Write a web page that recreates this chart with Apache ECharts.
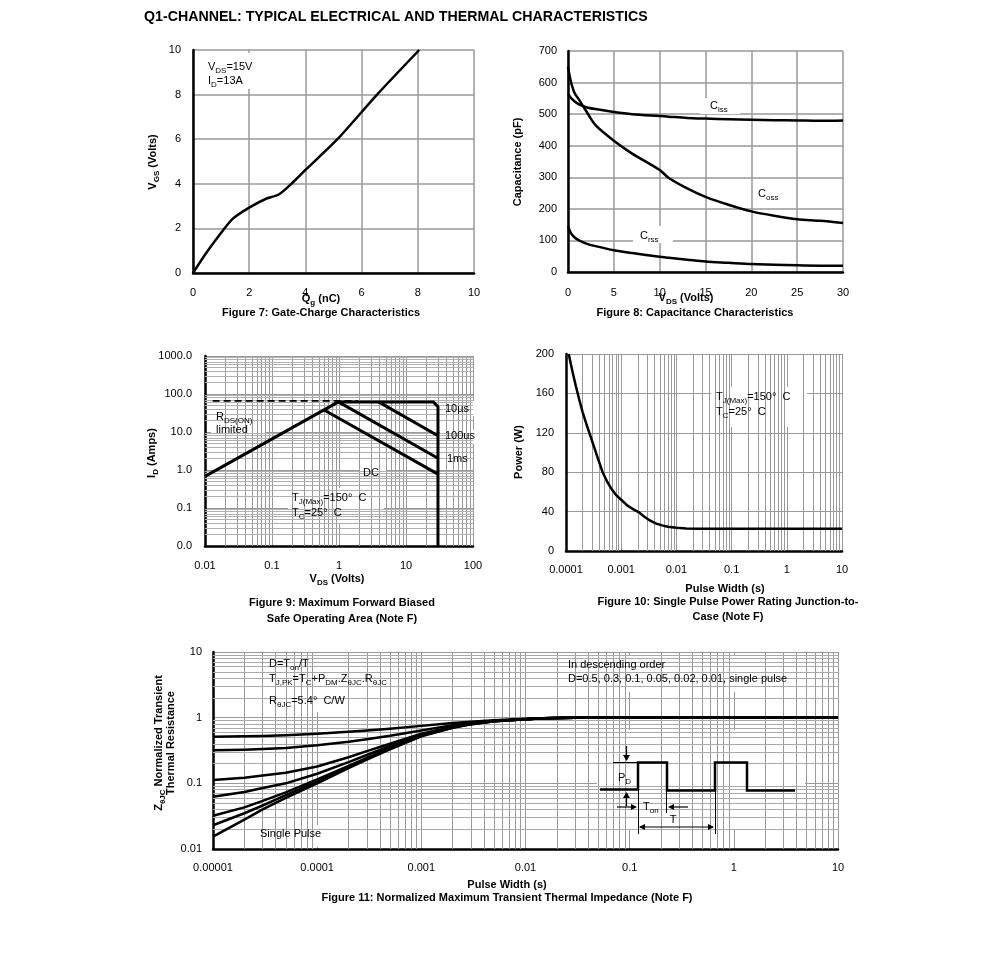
<!DOCTYPE html>
<html>
<head>
<meta charset="utf-8">
<script src="https://cdn.jsdelivr.net/npm/echarts@6/dist/echarts.min.js"></script>
<style>
html,body{margin:0;padding:0;background:#fff;}
#c{width:991px;height:965px;}
</style>
</head>
<body>
<div id="c"></div>
<script>
// ================= DATA =================
const titleText = 'Q1-CHANNEL: TYPICAL ELECTRICAL AND THERMAL CHARACTERISTICS';

// Figure 7: Gate charge
const fig7Qg  = [0, 0.5, 1.07, 1.42, 2.0, 2.6, 3.05, 3.5, 4.0, 5.14, 6.55, 8.05];
const fig7Vgs = [0, 0.95, 1.92, 2.44, 2.93, 3.33, 3.52, 4.0, 4.62, 6.0, 8.0, 10.0];
const fig7XTicks = ['0', '2', '4', '6', '8', '10'];
const fig7YTicks = ['0', '2', '4', '6', '8', '10'];

// Figure 8: Capacitance
const fig8Vds  = [0, 0.3, 0.7, 1.2, 2, 3, 5, 7, 10, 11, 13, 15, 17.5, 20, 22.5, 25, 27.5, 30];
const fig8Ciss = [565, 552, 541, 531, 522, 516, 507, 500, 494, 492, 488, 486, 484, 482, 481, 480, 479, 480];
const fig8Coss = [650, 605, 568, 546, 509, 465, 416, 375, 323, 298, 265, 238, 213, 192, 178, 167, 162, 155];
const fig8Crss = [145, 124, 110, 100, 90, 82, 69, 60, 48, 45, 39, 33, 29, 25, 23, 21, 20, 20];
const fig8XTicks = ['0', '5', '10', '15', '20', '25', '30'];
const fig8YTicks = ['0', '100', '200', '300', '400', '500', '600', '700'];

// Figure 9: Safe operating area
const fig9RdsX = [0.013, 1.9];
const fig9RdsY = [66, 66];
const fig9RampX = [0.01, 0.98];
const fig9RampY = [0.68, 62];
const fig9TenUsX = [0.98, 25.5, 30, 30];
const fig9TenUsY = [62, 62, 46, 0.01];
const fig9HundredUsX = [3.9, 30];
const fig9HundredUsY = [62, 8];
const fig9OneMsX = [0.98, 30];
const fig9OneMsY = [62, 2.03];
const fig9DcX = [0.6, 30];
const fig9DcY = [38, 0.78];
const fig9XTicks = ['0.01', '0.1', '1', '10', '100'];
const fig9YTicks = ['0.0', '0.1', '1.0', '10.0', '100.0', '1000.0'];

// Figure 10: Single pulse power rating
const fig10Pulse = [1.12e-4, 1.3e-4, 1.5e-4, 1.75e-4, 2.0e-4, 2.4e-4, 2.8e-4, 3.3e-4, 4.0e-4, 4.6e-4, 5.5e-4, 6.5e-4, 8e-4,
                    1e-3, 1.3e-3, 1.7e-3, 2.06e-3, 2.6e-3, 3.3e-3, 4.2e-3, 5.5e-3, 7e-3, 1e-2, 1.5e-2, 2.5e-2, 10];
const fig10Power = [200, 183, 168, 153, 141, 127, 116, 104, 90, 80, 71, 64, 57,
                    52, 46, 42, 39.5, 35, 31, 28, 26, 24.7, 23.5, 22.8, 22.5, 22.5];
const fig10XTicks = ['0.0001', '0.001', '0.01', '0.1', '1', '10'];
const fig10YTicks = ['0', '40', '80', '120', '160', '200'];

// Figure 11: Normalized transient thermal impedance
const fig11Pulse  = [1e-5, 2e-5, 3e-5, 5e-5, 1e-4, 2e-4, 3e-4, 5e-4, 1e-3, 2e-3, 3e-3, 5e-3, 1e-2, 1.5e-2, 2e-2, 3e-2, 0.1, 10];
const fig11D05    = [0.514, 0.52, 0.527, 0.54, 0.57, 0.61, 0.64, 0.68, 0.75, 0.83, 0.87, 0.91, 0.96, 0.98, 0.99, 1, 1, 1];
const fig11D03    = [0.318, 0.325, 0.332, 0.345, 0.38, 0.43, 0.47, 0.53, 0.64, 0.77, 0.84, 0.90, 0.95, 0.98, 0.99, 1, 1, 1];
const fig11D01    = [0.112, 0.122, 0.132, 0.145, 0.18, 0.25, 0.31, 0.40, 0.57, 0.73, 0.82, 0.89, 0.95, 0.98, 0.99, 1, 1, 1];
const fig11D005   = [0.0626, 0.074, 0.085, 0.10, 0.14, 0.21, 0.27, 0.37, 0.55, 0.72, 0.81, 0.89, 0.95, 0.98, 0.99, 1, 1, 1];
const fig11D002   = [0.032, 0.043, 0.054, 0.073, 0.115, 0.185, 0.245, 0.35, 0.54, 0.71, 0.80, 0.88, 0.95, 0.98, 0.99, 1, 1, 1];
const fig11D001   = [0.023, 0.035, 0.046, 0.066, 0.106, 0.175, 0.235, 0.34, 0.53, 0.71, 0.80, 0.88, 0.95, 0.98, 0.99, 1, 1, 1];
const fig11Single = [0.0154, 0.028, 0.040, 0.060, 0.10, 0.17, 0.23, 0.33, 0.52, 0.70, 0.79, 0.88, 0.95, 0.98, 0.99, 1, 1, 1];
const fig11XTicks = ['0.00001', '0.0001', '0.001', '0.01', '0.1', '1', '10'];
const fig11YTicks = ['0.01', '0.1', '1', '10'];

// ================= HELPERS =================
const FONT = '"Liberation Sans", Arial, Helvetica, sans-serif';
const zip = (xs, ys) => xs.map((x, i) => [x, ys[i]]);

function logMinorValues(minExp, maxExp) {
  const out = [];
  for (let e = minExp; e < maxExp; e++) {
    for (let k = 2; k <= 9; k++) out.push(k * Math.pow(10, e));
  }
  return out;
}

function baseAxis(gi, margin, formatter, gridW) {
  return {
    gridIndex: gi, z: 2,
    axisLine: { show: true, onZero: false, lineStyle: { color: '#000', width: 2.5 } },
    axisTick: { show: false },
    axisLabel: { show: true, margin: margin, color: '#000', fontSize: 11, fontFamily: FONT,
                 formatter: formatter, showMinLabel: true, showMaxLabel: true },
    splitLine: { show: true, lineStyle: { color: '#999', width: gridW || 1 } },
    minorTick: { show: false }, minorSplitLine: { show: false }
  };
}
function linAxis(gi, min, max, interval, ticks, margin, gridW) {
  return Object.assign(baseAxis(gi, margin, v => ticks[Math.round((v - min) / interval)], gridW),
    { type: 'value', min: min, max: max, interval: interval });
}
function logAxis(gi, minExp, maxExp, ticks, margin) {
  return Object.assign(baseAxis(gi, margin, v => ticks[Math.round(Math.log10(v)) - minExp]),
    { type: 'log', logBase: 10, min: Math.pow(10, minExp), max: Math.pow(10, maxExp) });
}

function curve(gi, xs, ys, o) {
  o = o || {};
  return {
    type: 'line', xAxisIndex: gi, yAxisIndex: gi, data: zip(xs, ys),
    showSymbol: false, symbol: 'none', smooth: o.smooth || false, clip: true, z: 7, silent: true,
    lineStyle: { color: '#000', width: o.width || 2.5, type: o.type || 'solid', cap: 'butt', join: 'round' }
  };
}

function minorGrid(gi, axis, values, color) {
  return {
    type: 'line', xAxisIndex: gi, yAxisIndex: gi, data: [], z: 1, silent: true,
    markLine: {
      silent: true, symbol: ['none', 'none'], animation: false, label: { show: false }, precision: 12,
      lineStyle: { color: color, width: 1, type: 'solid' }, emphasis: { disabled: true },
      data: values.map(v => axis === 'x' ? { xAxis: v } : { yAxis: v })
    }
  };
}

const subN = { fontSize: 8, fontFamily: FONT, fontWeight: 'normal', lineHeight: 8, padding: [7, 0, 0, 0], verticalAlign: 'middle' };
const subB = Object.assign({}, subN, { fontWeight: 'bold' });

function txt(x, y, text, o) {
  o = o || {};
  return {
    type: 'text', x: x, y: y, rotation: o.rot || 0, z: 6, silent: true,
    style: {
      text: text, fill: '#000', fontFamily: FONT, fontSize: o.size || 11,
      fontWeight: o.bold ? 'bold' : 'normal',
      align: o.align || 'left', verticalAlign: 'middle', lineHeight: 13,
      rich: { s: o.bold ? subB : subN }
    }
  };
}
function box(x, y, w, h) {
  return { type: 'rect', z: 5, silent: true, shape: { x: x, y: y, width: w, height: h }, style: { fill: '#fff' } };
}
function pline(points, w, z) {
  return { type: 'polyline', z: z || 6, silent: true, shape: { points: points }, style: { stroke: '#000', lineWidth: w, fill: null } };
}
function tri(points) {
  return { type: 'polygon', z: 6, silent: true, shape: { points: points }, style: { fill: '#000' } };
}

// ================= CHART =================
const chart = echarts.init(document.getElementById('c'), null, { renderer: 'canvas' });
const ROT = Math.PI / 2;

const graphics = [
  txt(144, 17, titleText, { bold: true, size: 14.2 }),

  // Fig 7
  txt(153, 162, 'V{s|GS} (Volts)', { bold: true, rot: ROT, align: 'center' }),
  txt(321, 299, 'Q{s|g} (nC)', { bold: true, align: 'center' }),
  txt(321, 313, 'Figure 7: Gate-Charge Characteristics', { bold: true, align: 'center' }),
  box(197, 53, 59, 36),
  txt(208, 67, 'V{s|DS}=15V'),
  txt(208, 81, 'I{s|D}=13A'),

  // Fig 8
  txt(518, 162, 'Capacitance (pF)', { bold: true, rot: ROT, align: 'center' }),
  txt(686, 298, 'V{s|DS} (Volts)', { bold: true, align: 'center' }),
  txt(695, 313, 'Figure 8: Capacitance Characteristics', { bold: true, align: 'center' }),
  box(700, 98, 40, 16),
  txt(710, 106, 'C{s|iss}'),
  txt(758, 194, 'C{s|oss}'),
  box(633, 226, 40, 17),
  txt(640, 236, 'C{s|rss}'),

  // Fig 9
  txt(152, 453, 'I{s|D} (Amps)', { bold: true, rot: ROT, align: 'center' }),
  txt(337, 579, 'V{s|DS} (Volts)', { bold: true, align: 'center' }),
  txt(342, 603, 'Figure 9: Maximum Forward Biased', { bold: true, align: 'center' }),
  txt(342, 619, 'Safe Operating Area (Note F)', { bold: true, align: 'center' }),
  box(211, 405, 55, 36),
  txt(216, 417, 'R{s|DS(ON)}'),
  txt(216, 430, 'limited'),
  box(440, 401, 37, 15),
  txt(445, 409, '10µs'),
  box(440, 430, 37, 14),
  txt(445, 436, '100us'),
  box(444, 452, 27, 15),
  txt(447, 459, '1ms'),
  box(359, 465, 27, 15),
  txt(363, 473, 'DC'),
  box(288, 488, 96, 36),
  txt(292, 498, 'T{s|J(Max)}=150°  C'),
  txt(292, 513, 'T{s|C}=25°  C'),

  // Fig 10
  txt(519, 452, 'Power (W)', { bold: true, rot: ROT, align: 'center' }),
  txt(725, 589, 'Pulse Width (s)', { bold: true, align: 'center' }),
  txt(728, 602, 'Figure 10: Single Pulse Power Rating Junction-to-', { bold: true, align: 'center' }),
  txt(728, 617, 'Case (Note F)', { bold: true, align: 'center' }),
  box(711, 387, 96, 40),
  txt(716, 397, 'T{s|J(Max)}=150°  C'),
  txt(716, 412, 'T{s|C}=25°  C'),

  // Fig 11
  txt(159, 743, 'Z{s|θJC} Normalized Transient', { bold: true, rot: ROT, align: 'center' }),
  txt(171, 743, 'Thermal Resistance', { bold: true, rot: ROT, align: 'center' }),
  txt(507, 885, 'Pulse Width (s)', { bold: true, align: 'center' }),
  txt(507, 898, 'Figure 11: Normalized Maximum Transient Thermal Impedance (Note F)', { bold: true, align: 'center' }),
  box(265, 653, 143, 59),
  txt(269, 664, 'D=T{s|on}/T'),
  txt(269, 679, 'T{s|J,PK}=T{s|C}+P{s|DM}.Z{s|θJC}.R{s|θJC}'),
  txt(269, 701, 'R{s|θJC}=5.4°  C/W'),
  box(565, 655, 264, 37),
  txt(568, 665, 'In descending order'),
  txt(568, 679, 'D=0.5, 0.3, 0.1, 0.05, 0.02, 0.01, single pulse'),
  box(255, 825, 77, 22),
  txt(260, 834, 'Single Pulse'),

  // Fig 11 inset: pulse diagram
  box(597, 730, 208, 100),
  pline([[600, 789.5], [638, 789.5], [638, 762.5], [667, 762.5], [667, 790.5], [715, 790.5], [715, 762.5], [747, 762.5], [747, 790.5], [795, 790.5]], 2.5, 7),
  pline([[613, 762.5], [638, 762.5]], 1),
  pline([[626.5, 746], [626.5, 756]], 1.2),
  tri([[623, 755], [630, 755], [626.5, 761]]),
  pline([[626.5, 806], [626.5, 797]], 1.2),
  tri([[623, 798], [630, 798], [626.5, 792]]),
  txt(618, 778, 'P{s|D}'),
  pline([[617, 807], [632, 807]], 1.2),
  tri([[631, 804], [631, 810], [637, 807]]),
  pline([[688, 807], [673, 807]], 1.2),
  tri([[674, 804], [674, 810], [668, 807]]),
  txt(643, 807, 'T{s|on}'),
  pline([[638.5, 790], [638.5, 834]], 1),
  pline([[666.5, 790], [666.5, 813]], 1),
  pline([[715.5, 790], [715.5, 834]], 1),
  pline([[640, 827], [713, 827]], 1.2),
  tri([[645, 824], [645, 830], [639, 827]]),
  tri([[708, 824], [708, 830], [714, 827]]),
  txt(673, 820, 'T', { align: 'center' })
];

const option = {
  animation: false,
  backgroundColor: '#fff',
  grid: [
    { left: 193, top: 50, width: 281, height: 223, containLabel: false, outerBoundsMode: 'none' },
    { left: 568, top: 51, width: 275, height: 221, containLabel: false, outerBoundsMode: 'none' },
    { left: 205, top: 356, width: 268, height: 190, containLabel: false, outerBoundsMode: 'none' },
    { left: 566, top: 354, width: 276, height: 197, containLabel: false, outerBoundsMode: 'none' },
    { left: 213, top: 652, width: 625, height: 197, containLabel: false, outerBoundsMode: 'none' }
  ],
  xAxis: [
    linAxis(0, 0, 10, 2, fig7XTicks, 14, 1.5),
    linAxis(1, 0, 30, 5, fig8XTicks, 15, 1.5),
    logAxis(2, -2, 2, fig9XTicks, 14),
    logAxis(3, -4, 1, fig10XTicks, 13),
    logAxis(4, -5, 1, fig11XTicks, 13)
  ],
  yAxis: [
    linAxis(0, 0, 10, 2, fig7YTicks, 12, 1.5),
    linAxis(1, 0, 700, 100, fig8YTicks, 11, 1.5),
    logAxis(2, -2, 3, fig9YTicks, 13),
    linAxis(3, 0, 200, 40, fig10YTicks, 12),
    logAxis(4, -2, 1, fig11YTicks, 11)
  ],
  series: [
    // minor log grid lines
    minorGrid(2, 'x', logMinorValues(-2, 2), '#999'),
    minorGrid(2, 'y', logMinorValues(-2, 3), '#b0b0b0'),
    minorGrid(3, 'x', logMinorValues(-4, 1), '#999'),
    minorGrid(4, 'x', logMinorValues(-5, 1), '#999'),
    minorGrid(4, 'y', logMinorValues(-2, 1), '#aaa'),

    // Fig 7
    curve(0, fig7Qg, fig7Vgs, { smooth: 0.25 }),
    // Fig 8
    curve(1, fig8Vds, fig8Ciss, { smooth: 0.3 }),
    curve(1, fig8Vds, fig8Coss, { smooth: 0.3 }),
    curve(1, fig8Vds, fig8Crss, { smooth: 0.3 }),
    // Fig 9
    curve(2, fig9RdsX, fig9RdsY, { width: 1.8, type: [7, 4] }),
    curve(2, fig9RampX, fig9RampY, { width: 3 }),
    curve(2, fig9TenUsX, fig9TenUsY, { width: 3 }),
    curve(2, fig9HundredUsX, fig9HundredUsY, { width: 3 }),
    curve(2, fig9OneMsX, fig9OneMsY, { width: 3 }),
    curve(2, fig9DcX, fig9DcY, { width: 3 }),
    // Fig 10
    curve(3, fig10Pulse, fig10Power),
    // Fig 11
    curve(4, fig11Pulse, fig11D05),
    curve(4, fig11Pulse, fig11D03),
    curve(4, fig11Pulse, fig11D01),
    curve(4, fig11Pulse, fig11D005),
    curve(4, fig11Pulse, fig11D002),
    curve(4, fig11Pulse, fig11D001),
    curve(4, fig11Pulse, fig11Single)
  ],
  graphic: { elements: graphics }
};
chart.setOption(option);
</script>
</body>
</html>
